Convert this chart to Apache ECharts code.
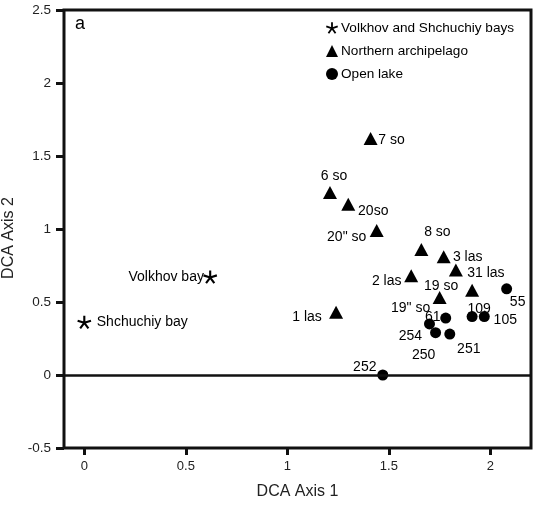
<!DOCTYPE html>
<html>
<head>
<meta charset="utf-8">
<script src="https://cdn.jsdelivr.net/npm/echarts@6/dist/echarts.min.js"></script>
<style>
html,body{margin:0;padding:0;background:#fff;}
#chart{width:537px;height:506px;}
</style>
</head>
<body>
<div id="chart"></div>
<script>
// ---- data ----
const xTicks = [0, 0.5, 1, 1.5, 2];

const bayNames = ['Volkhov bay', 'Shchuchiy bay'];
const bayAxis1 = [0.62, 0.00];
const bayAxis2 = [0.67, 0.36];

const archNames = ['7 so', '6 so', '20so', '20" so', '8 so', '3 las', '31 las', '2 las', '19 so', '19" so', '1 las'];
const archAxis1 = [1.41, 1.21, 1.30, 1.44, 1.66, 1.77, 1.83, 1.61, 1.91, 1.75, 1.24];
const archAxis2 = [1.62, 1.25, 1.17, 0.99, 0.86, 0.81, 0.72, 0.68, 0.58, 0.53, 0.43];

const lakeNames = ['55', '109', '105', '61', '254', '250', '251', '252'];
const lakeAxis1 = [2.08, 1.91, 1.97, 1.78, 1.70, 1.73, 1.80, 1.47];
const lakeAxis2 = [0.59, 0.40, 0.40, 0.39, 0.35, 0.29, 0.28, 0.00];

// ---- layout (label offsets in px, relative to marker) ----
const labelOffsets = {
  '7 so': [21, 2], '6 so': [4, -16], '20so': [25, 7], '20" so': [-30, 7],
  '8 so': [16, -17], '3 las': [24, 0], '31 las': [30, 3], '2 las': [-24.5, 5],
  '19 so': [-31, -4], '19" so': [-29, 11], '1 las': [-29, 5],
  '55': [11, 13], '109': [7, -7], '105': [21, 4], '61': [-13, -1],
  '254': [-19, 12], '250': [-12, 22], '251': [19, 15], '252': [-18, -8],
  'Volkhov bay': [-44, 0], 'Shchuchiy bay': [58, 0]
};

function asteriskPath() {
  const w = 0.15;
  let d = '';
  for (let k = 0; k < 5; k++) {
    const a = (-90 + 72 * k) * Math.PI / 180;
    const cx = Math.cos(a), cy = Math.sin(a);
    const nx = -cy, ny = cx;
    const p = [[nx * w, ny * w], [cx + nx * w, cy + ny * w], [cx - nx * w, cy - ny * w], [-nx * w, -ny * w]];
    d += 'M' + p.map(q => q[0].toFixed(3) + ' ' + q[1].toFixed(3)).join(' L') + ' Z ';
  }
  return 'path://' + d;
}

function build(names, xs, ys) {
  return names.map((n, i) => ({
    value: [xs[i], ys[i]],
    name: n,
    label: { offset: labelOffsets[n] || [0, 0] }
  }));
}

const FONT = 'Liberation Sans, Arial, Helvetica, sans-serif';
const INK = '#000';

const baseLabel = {
  show: true,
  position: 'inside',
  formatter: p => p.name,
  color: INK,
  fontSize: 14,
  fontFamily: FONT
};

const chart = echarts.init(document.getElementById('chart'), null, { renderer: 'canvas' });
chart.setOption({
  animation: false,
  backgroundColor: '#fff',
  textStyle: { fontFamily: FONT },
  grid: {
    left: 64, right: 6, top: 10, bottom: 58,
    show: true, borderColor: '#111', borderWidth: 3,
    containLabel: false, outerBoundsMode: 'none'
  },
  legend: {
    orient: 'vertical',
    left: 326, top: 21,
    padding: 0,
    itemWidth: 12, itemHeight: 12, itemGap: 9,
    itemStyle: { opacity: 1 },
    textStyle: { color: INK, fontSize: 13.6, fontFamily: FONT, padding: [0, 0, 0, -2] },
    data: ['Volkhov and Shchuchiy bays', 'Northern archipelago', 'Open lake']
  },
  xAxis: {
    type: 'value', min: -0.1, max: 2.2,
    splitLine: { show: false },
    axisLine: { show: false, onZero: false },
    axisTick: { show: true, inside: false, length: 7, customValues: xTicks, lineStyle: { color: '#111', width: 3 } },
    axisLabel: { customValues: xTicks, color: '#222', fontSize: 13, margin: 12, fontFamily: FONT },
    name: 'DCA Axis 1', nameLocation: 'middle', nameGap: 36,
    nameTextStyle: { color: '#222', fontSize: 16, fontFamily: FONT }
  },
  yAxis: {
    type: 'value', min: -0.5, max: 2.5, interval: 0.5,
    splitLine: { show: false },
    axisLine: { show: false, onZero: false },
    axisTick: { show: true, inside: false, length: 8, lineStyle: { color: '#111', width: 3 } },
    axisLabel: { color: '#222', fontSize: 13.5, margin: 13, fontFamily: FONT },
    name: 'DCA Axis 2', nameLocation: 'middle', nameGap: 30,
    nameTextStyle: { color: '#222', fontSize: 16, fontFamily: FONT, padding: [0, 18, 0, 0] }
  },
  graphic: [{
    type: 'text', left: 75, top: 15,
    style: { text: 'a', fontSize: 18, fontFamily: FONT, fill: INK }
  }],
  series: [
    {
      name: 'Volkhov and Shchuchiy bays', type: 'scatter',
      symbol: asteriskPath(), symbolSize: 14, symbolKeepAspect: true,
      itemStyle: { color: INK, opacity: 1 },
      label: baseLabel,
      data: build(bayNames, bayAxis1, bayAxis2),
      markLine: {
        silent: true, symbol: ['none', 'none'],
        label: { show: false },
        lineStyle: { color: '#111', width: 2.5, type: 'solid', opacity: 1 },
        data: [{ yAxis: 0 }]
      }
    },
    {
      name: 'Northern archipelago', type: 'scatter',
      symbol: 'triangle', symbolSize: [14, 13],
      itemStyle: { color: INK, opacity: 1 },
      label: baseLabel,
      data: build(archNames, archAxis1, archAxis2)
    },
    {
      name: 'Open lake', type: 'scatter',
      symbol: 'circle', symbolSize: 11,
      itemStyle: { color: INK, opacity: 1 },
      label: baseLabel,
      data: build(lakeNames, lakeAxis1, lakeAxis2)
    }
  ]
});
</script>
</body>
</html>
